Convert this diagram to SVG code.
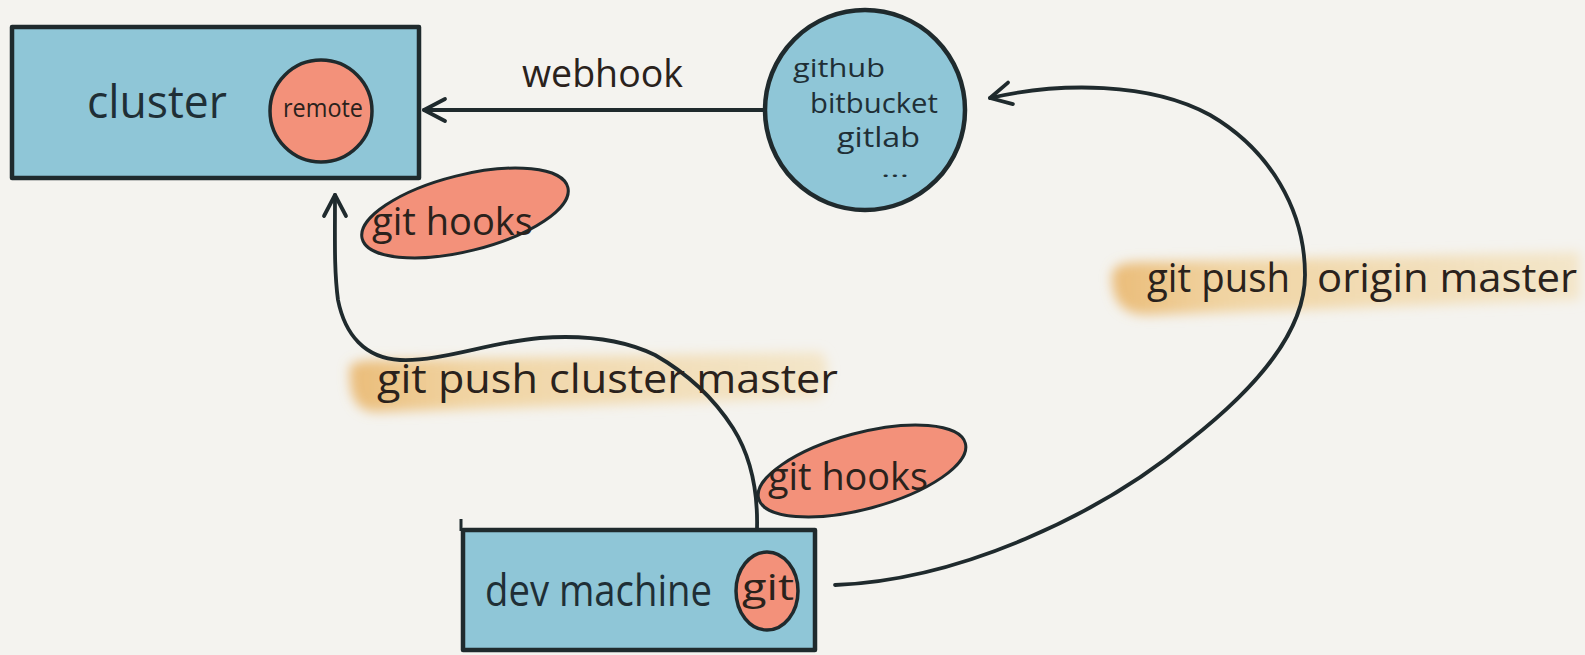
<svg xmlns="http://www.w3.org/2000/svg" width="1585" height="655" viewBox="0 0 1585 655">
  <style>
    .paper { fill: #f4f3ef; }
    .box { fill: #8fc6d7; stroke: #1f2a2d; stroke-width: 4.5; stroke-linejoin: round; }
    .disc { fill: #f3917a; stroke: #1f2a2d; stroke-width: 3.5; }
    .hook { fill: #f3917a; stroke: #1f2a2d; stroke-width: 3; }
    .wire { fill: none; stroke: #1f2a2d; stroke-width: 3.8; stroke-linecap: round; }
    .hand { font-family: "Open Sans", "Liberation Sans", sans-serif; fill: #1f2f36; }
    .note { font-family: "Open Sans", "Liberation Sans", sans-serif; fill: #2a221c; }
  </style>
  <defs>
    <marker id="chevron" viewBox="-26 -14 30 28" markerWidth="30" markerHeight="28" refX="0" refY="0" orient="auto" markerUnits="userSpaceOnUse">
      <path d="M -21 -11 L 0 0 L -21 11" fill="none" stroke="#1f2a2d" stroke-width="3.8" stroke-linecap="round" stroke-linejoin="round"/>
    </marker>
    <linearGradient id="marker-ink" x1="0" y1="0" x2="1" y2="0">
      <stop offset="0" stop-color="#e9b263" stop-opacity="0.85"/>
      <stop offset="0.25" stop-color="#efca8a" stop-opacity="0.75"/>
      <stop offset="1" stop-color="#f3ddb0" stop-opacity="0.6"/>
    </linearGradient>
    <filter id="soft" x="-10%" y="-60%" width="120%" height="220%">
      <feGaussianBlur stdDeviation="6"/>
    </filter>
  </defs>

  <rect class="paper" x="0" y="0" width="1585" height="655"/>

  <!-- highlighter strokes behind the push labels -->
  <g id="highlights">
    <path d="M 350 372 Q 345 360 380 360 L 820 352 Q 835 365 820 398 L 380 412 Q 348 414 350 372 Z" fill="url(#marker-ink)" filter="url(#soft)"/>
    <path d="M 1112 278 Q 1110 262 1140 262 L 1580 252 L 1580 300 L 1150 315 Q 1112 316 1112 278 Z" fill="url(#marker-ink)" filter="url(#soft)"/>
  </g>

  <!-- cluster with its remote -->
  <g id="cluster">
    <rect class="box" x="12" y="27" width="407" height="151"/>
    <text class="hand" x="87" y="118" font-size="46" textLength="140" lengthAdjust="spacingAndGlyphs">cluster</text>
    <circle class="disc" cx="321" cy="111" r="51"/>
    <text class="note" x="283" y="117" font-size="26" textLength="80" lengthAdjust="spacingAndGlyphs">remote</text>
  </g>

  <!-- hosted git services -->
  <g id="hosting">
    <circle class="box" cx="865" cy="110" r="100"/>
    <text class="hand" x="793" y="77" font-size="26" textLength="92" lengthAdjust="spacingAndGlyphs">github</text>
    <text class="hand" x="810" y="113" font-size="27" textLength="128" lengthAdjust="spacingAndGlyphs">bitbucket</text>
    <text class="hand" x="837" y="147" font-size="27" textLength="83" lengthAdjust="spacingAndGlyphs">gitlab</text>
    <text class="hand" x="881" y="177" font-size="20" textLength="28" lengthAdjust="spacingAndGlyphs">...</text>
  </g>

  <!-- hooks on the cluster side -->
  <g id="cluster-hooks">
    <ellipse class="hook" cx="465" cy="213" rx="106" ry="38" transform="rotate(-14 465 213)"/>
    <text class="note" x="372" y="235" font-size="38" textLength="161" lengthAdjust="spacingAndGlyphs">git hooks</text>
  </g>

  <!-- developer workstation -->
  <g id="dev-machine">
    <path class="box" d="M 463 530 L 815 530 L 815 650 L 463 650 Z"/>
    <path d="M 461 519 L 461 531" fill="none" stroke="#1f2a2d" stroke-width="3"/>
    <text class="hand" x="485" y="606" font-size="44" textLength="227" lengthAdjust="spacingAndGlyphs">dev machine</text>
    <ellipse class="disc" cx="767" cy="591" rx="31" ry="39"/>
    <text class="note" x="742" y="600" font-size="36" textLength="52" lengthAdjust="spacingAndGlyphs">git</text>
  </g>

  <!-- hooks on the local side -->
  <g id="local-hooks">
    <ellipse class="hook" cx="862" cy="471" rx="107" ry="38" transform="rotate(-15 862 471)"/>
    <text class="note" x="768" y="490" font-size="38" textLength="160" lengthAdjust="spacingAndGlyphs">git hooks</text>
  </g>

  <!-- connectors -->
  <g id="connectors">
    <path class="wire" d="M 765 110 L 424 110" marker-end="url(#chevron)"/>
    <path class="wire" d="M 757 529 C 758 490, 750 455, 733 428 C 715 400, 690 375, 655 355 C 620 338, 580 335, 540 338 C 490 342, 440 362, 400 360 C 365 358, 345 335, 338 300 C 334 270, 335 240, 335 195" marker-end="url(#chevron)"/>
    <path class="wire" d="M 835 585 C 960 580, 1100 515, 1190 440 C 1260 385, 1305 330, 1305 275 C 1305 210, 1270 150, 1210 115 C 1150 82, 1060 82, 990 98" marker-end="url(#chevron)"/>
  </g>

  <!-- connector labels -->
  <g id="labels">
    <text class="note" x="522" y="87" font-size="38" textLength="161" lengthAdjust="spacingAndGlyphs">webhook</text>
    <text class="note" x="377" y="393" font-size="40" textLength="461" lengthAdjust="spacingAndGlyphs">git push cluster master</text>
    <text class="note" y="292" font-size="40"><tspan x="1147" textLength="143" lengthAdjust="spacingAndGlyphs">git push</tspan><tspan x="1317" textLength="260" lengthAdjust="spacingAndGlyphs">origin master</tspan></text>
  </g>
</svg>
